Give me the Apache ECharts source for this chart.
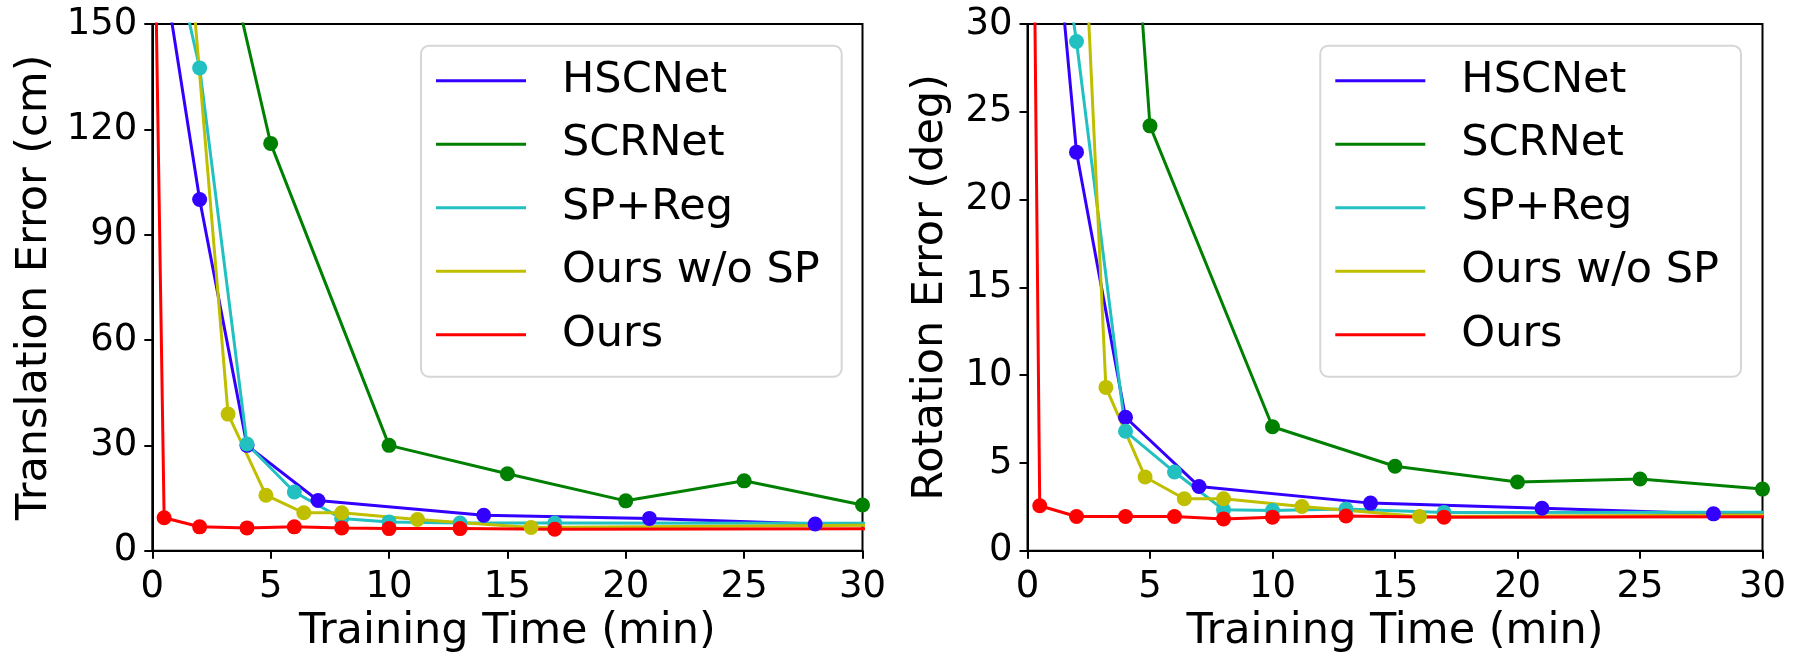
<!DOCTYPE html>
<html>
<head>
<meta charset="utf-8">
<script src="https://cdn.jsdelivr.net/npm/echarts@6/dist/echarts.min.js"></script>
<style>
  html, body { margin: 0; padding: 0; background: #fff; }
  #chart { width: 1796px; height: 662px; }
</style>
</head>
<body>
<div id="chart"></div>
<script>
const methods = ['HSCNet', 'SCRNet', 'SP+Reg', 'Ours w/o SP', 'Ours'];
const colors = ['#3300ff', '#008000', '#22c0c0', '#bfbf00', '#ff0000'];

// training time (min) of each evaluation
const hscnetTime = [0, 2, 4, 7, 14, 21, 28, 35];
const scrnetTime = [0, 5, 10, 15, 20, 25, 30];
const spRegTime = [0, 2, 4, 6, 8, 10, 13, 17, 35];
const oursNoSpTime = [1.6, 3.2, 4.8, 6.4, 8, 11.2, 16, 32];
const oursTime = [0, 0.5, 2, 4, 6, 8, 10, 13, 17, 35];

// translation error (cm)
const hscnetTrans = [186, 100, 30, 14.3, 10.1, 9.2, 7.6, 7.0];
const scrnetTrans = [262, 116, 30, 21.9, 14.2, 19.9, 13];
const spRegTrans = [197, 137.5, 30.4, 16.7, 9.2, 8.2, 7.9, 7.9, 7.8];
const oursNoSpTrans = [168, 38.9, 15.8, 10.8, 10.8, 8.9, 6.6, 7.3];
const oursTrans = [224, 9.4, 6.8, 6.5, 6.8, 6.5, 6.3, 6.3, 6.1, 6.3];

// rotation error (deg)
const hscnetRot = [53, 22.7, 7.6, 3.66, 2.71, 2.42, 2.1, 2.0];
const scrnetRot = [121, 24.2, 7.06, 4.81, 3.91, 4.08, 3.51];
const spRegRot = [48, 29, 6.8, 4.48, 2.33, 2.29, 2.37, 2.18, 2.2];
const oursNoSpRot = [57, 9.3, 4.2, 2.96, 2.96, 2.52, 1.95, 2.05];
const oursRot = [73, 2.56, 1.95, 1.95, 1.95, 1.81, 1.91, 1.98, 1.91, 1.95];

const times = [hscnetTime, scrnetTime, spRegTime, oursNoSpTime, oursTime];
const transErr = [hscnetTrans, scrnetTrans, spRegTrans, oursNoSpTrans, oursTrans];
const rotErr = [hscnetRot, scrnetRot, spRegRot, oursNoSpRot, oursRot];

const xMax = 30, xStep = 5;
const transMax = 150, transStep = 30;
const rotMax = 30, rotStep = 5;

const font = 'DejaVu Sans';

const zip = (xs, ys) => xs.map((x, i) => [x, ys[i]]);

const makeSeries = (values, idx) => methods.map((name, i) => ({
    name: name,
    type: 'line',
    xAxisIndex: idx,
    yAxisIndex: idx,
    data: zip(times[i], values[i]),
    clip: true,
    symbol: 'circle',
    symbolSize: 15,
    showAllSymbol: true,
    itemStyle: { color: colors[i] },
    lineStyle: { color: colors[i], width: 3 },
    emphasis: { disabled: true },
    animation: false
}));

const makeLegend = (pos) => Object.assign({
    orient: 'vertical',
    top: 45.7,
    data: methods,
    icon: 'rect',
    itemWidth: 90,
    itemHeight: 3,
    itemGap: 13.5,
    selectedMode: false,
    padding: [10, 22, 17, 15],
    backgroundColor: '#fff',
    borderColor: '#d6d6d6',
    borderWidth: 2,
    borderRadius: 8,
    textStyle: {
        fontFamily: font,
        fontSize: 43,
        color: '#000',
        lineHeight: 50,
        padding: [0, 0, 0, 31]
    }
}, pos);

const makeXAxis = (idx) => ({
    type: 'value',
    gridIndex: idx,
    min: 0,
    max: xMax,
    interval: xStep,
    name: 'Training Time (min)',
    nameLocation: 'middle',
    nameGap: 57,
    nameTextStyle: { fontFamily: font, fontSize: 43, color: '#000' },
    axisLine: { show: true, lineStyle: { color: '#000', width: 2 } },
    axisTick: { show: true, length: 8, lineStyle: { color: '#000', width: 2 } },
    axisLabel: { fontFamily: font, fontSize: 37, color: '#000', margin: 18 },
    splitLine: { show: false }
});

const makeYAxis = (idx, name, max, step, gap) => ({
    type: 'value',
    gridIndex: idx,
    min: 0,
    max: max,
    interval: step,
    name: name,
    nameLocation: 'middle',
    nameGap: gap,
    nameTextStyle: { fontFamily: font, fontSize: 43, color: '#000' },
    axisLine: { show: true, lineStyle: { color: '#000', width: 2 } },
    axisTick: { show: true, length: 8, lineStyle: { color: '#000', width: 2 } },
    axisLabel: { fontFamily: font, fontSize: 37, color: '#000', margin: 15 },
    splitLine: { show: false }
});

const chart = echarts.init(document.getElementById('chart'), null, { renderer: 'canvas' });

chart.setOption({
    backgroundColor: '#fff',
    animation: false,
    grid: [
        { left: 152.3, right: 933.5, top: 24, bottom: 111.3, show: true, borderColor: '#000', borderWidth: 2 },
        { left: 1027.5, right: 33.5, top: 24, bottom: 111.3, show: true, borderColor: '#000', borderWidth: 2 }
    ],
    legend: [
        makeLegend({ left: 421 }),
        makeLegend({ right: 55 })
    ],
    xAxis: [makeXAxis(0), makeXAxis(1)],
    yAxis: [
        makeYAxis(0, 'Translation Error (cm)', transMax, transStep, 96),
        makeYAxis(1, 'Rotation Error (deg)', rotMax, rotStep, 75)
    ],
    series: makeSeries(transErr, 0).concat(makeSeries(rotErr, 1))
});
</script>
</body>
</html>
